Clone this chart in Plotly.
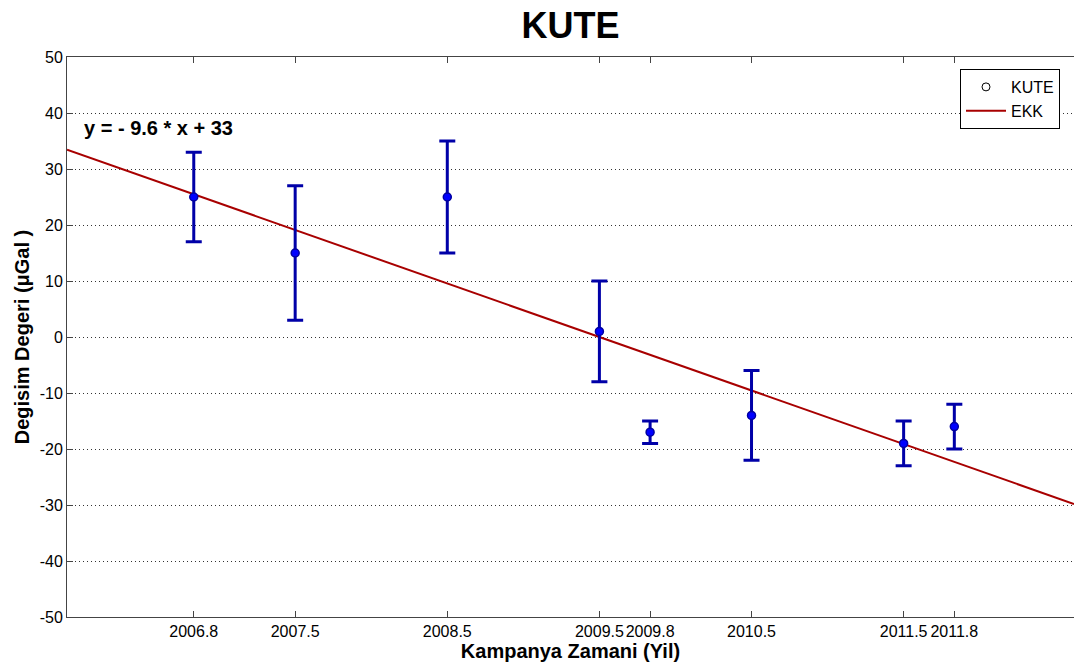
import numpy as np
import plotly.graph_objects as go

# Data
campaign_times = [2006.8333, 2007.5, 2008.5, 2009.5, 2009.8333, 2010.5, 2011.5, 2011.8333]
tick_labels = ["2006.8", "2007.5", "2008.5", "2009.5", "2009.8", "2010.5", "2011.5", "2011.8"]
change_values = [25, 15, 25, 1, -17, -14, -19, -16]
error_values = [8, 12, 10, 9, 2, 8, 4, 4]
y_ticks = [-50, -40, -30, -20, -10, 0, 10, 20, 30, 40, 50]
y_tick_labels = ["-50", "-40", "-30", "-20", "-10", "0", "10", "20", "30", "40", "50"]

x_start = 2006.0
x_end = 2012.62

# least-squares fit (EKK) with x = years since 2006
t = np.array(campaign_times) - x_start
slope, intercept = np.polyfit(t, np.array(change_values, dtype=float), 1)
fit_x = np.array([x_start, x_end])
fit_y = slope * (fit_x - x_start) + intercept

fig = go.Figure()

fig.add_trace(go.Scatter(
    x=fit_x, y=fit_y, mode="lines", name="EKK",
    line=dict(color="#a80000", width=2), showlegend=False,
))

fig.add_trace(go.Scatter(
    x=campaign_times, y=change_values, mode="markers", name="KUTE",
    marker=dict(symbol="circle", size=8, color="#0000ff",
                line=dict(color="#0000a0", width=1.5)),
    error_y=dict(type="data", array=error_values, visible=True,
                 color="#0000a8", thickness=3, width=8),
    showlegend=False,
))

# legend-only entries
fig.add_trace(go.Scatter(
    x=[None], y=[None], mode="markers", name="KUTE",
    marker=dict(symbol="circle-open", size=8, color="black", line=dict(width=1)),
))
fig.add_trace(go.Scatter(
    x=[None], y=[None], mode="lines", name="EKK",
    line=dict(color="#a80000", width=2),
))

font_family = "Liberation Sans, Arial, sans-serif"

fig.update_layout(
    width=1074, height=667,
    margin=dict(l=67, r=0, t=57, b=50),
    paper_bgcolor="white", plot_bgcolor="white",
    font=dict(family=font_family, color="black", size=16),
    title=dict(text="<b>KUTE</b>", x=(67 + 1074) / 2 / 1074, xanchor="center",
               y=1 - 25 / 667, yanchor="middle",
               font=dict(size=36, family=font_family, color="black")),
    legend=dict(x=(1060 - 67) / 1007, xanchor="right", y=(617 - 69) / 560, yanchor="top",
                bgcolor="white", bordercolor="black", borderwidth=1, itemwidth=40,
                font=dict(size=16, family=font_family), traceorder="normal"),
    showlegend=True,
)

fig.update_xaxes(
    range=[x_start, x_end], automargin=False,
    tickmode="array", tickvals=campaign_times, ticktext=tick_labels, tickangle=0,
    ticks="inside", ticklen=6, tickcolor="#444", tickwidth=1,
    showline=True, linecolor="#444", linewidth=1, mirror="ticks",
    showgrid=False, zeroline=False,
    tickfont=dict(size=16),
    title=dict(text="<b>Kampanya Zamani (Yil)</b>", font=dict(size=20), standoff=3),
)

fig.update_yaxes(
    range=[-50, 50], automargin=False,
    tickmode="array", tickvals=y_ticks, ticktext=y_tick_labels,
    ticks="inside", ticklen=6, tickcolor="#444", tickwidth=1,
    showline=True, linecolor="#444", linewidth=1, mirror=False,
    showgrid=True, gridcolor="#333", gridwidth=1, griddash="1px,3px",
    zeroline=False,
    tickfont=dict(size=16),
    title=dict(text="<b>Degisim Degeri (μGal )</b>", font=dict(size=20), standoff=4),
)

fig.add_annotation(
    text="<b>y = - 9.6 * x + 33</b>", xref="paper", x=(82 - 67) / 1007, xanchor="left",
    yref="y", y=37.3, yanchor="middle", showarrow=False,
    font=dict(size=20, family=font_family, color="black"),
)

fig.write_html("out.html")
